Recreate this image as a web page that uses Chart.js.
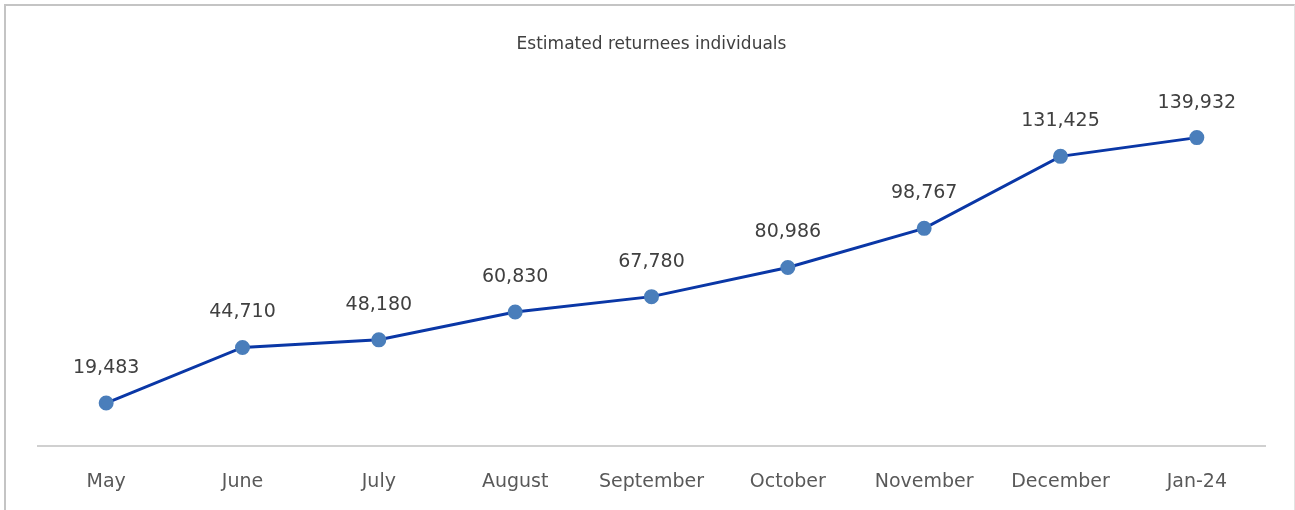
<!DOCTYPE html>
<html>
<head>
<meta charset="utf-8">
<script src="https://cdn.jsdelivr.net/npm/chart.js@4.4.1/dist/chart.umd.min.js"></script>
<style>
  html, body { margin: 0; padding: 0; background: #fff; }
  #wrap { position: relative; width: 1295px; height: 510px; overflow: hidden; }
  #frame { position: absolute; left: 4px; top: 4px; width: 1291px; height: 530px;
           border-top: 2px solid #c4c4c4; border-left: 2px solid #c4c4c4;
           border-right: 1px solid #e2e2e2; box-sizing: border-box; }
  canvas { position: absolute; left: 0; top: 0; }
</style>
</head>
<body>
<div id="wrap">
  <div id="frame"></div>
  <canvas id="chart" width="1295" height="510"></canvas>
</div>
<script>
// data
const months = ['May', 'June', 'July', 'August', 'September', 'October', 'November', 'December', 'Jan-24'];
const returnees = [19483, 44710, 48180, 60830, 67780, 80986, 98767, 131425, 139932];
const chartTitle = 'Estimated returnees individuals';

// draw the value above each point
const valueLabels = {
    id: 'valueLabels',
    afterDatasetsDraw(chart) {
        const ctx = chart.ctx;
        const meta = chart.getDatasetMeta(0);
        ctx.save();
        ctx.font = '19px "DejaVu Sans", sans-serif';
        ctx.fillStyle = '#404040';
        ctx.textAlign = 'center';
        ctx.textBaseline = 'middle';
        meta.data.forEach((pt, i) => {
            ctx.fillText(returnees[i].toLocaleString('en-US'), pt.x, pt.y - 35);
        });
        ctx.restore();
    }
};

new Chart(document.getElementById('chart'), {
    type: 'line',
    data: {
        labels: months,
        datasets: [{
            data: returnees,
            borderColor: '#0a37a6',
            borderWidth: 3,
            pointBackgroundColor: '#4a7ebb',
            pointBorderColor: '#4a7ebb',
            pointRadius: 6,
            tension: 0,
            fill: false
        }]
    },
    options: {
        responsive: false,
        animation: false,
        layout: { padding: { left: 38, right: 30, top: 0, bottom: 0 } },
        plugins: {
            legend: { display: false },
            tooltip: { enabled: false },
            title: {
                display: true,
                text: chartTitle,
                color: '#404040',
                font: { family: '"DejaVu Sans", sans-serif', size: 17, weight: 'normal' },
                padding: { top: 34, bottom: 39 }
            }
        },
        scales: {
            x: {
                offset: true,
                grid: { display: false },
                border: { color: '#d0d0d0', width: 2 },
                ticks: {
                    color: '#595959',
                    font: { family: '"DejaVu Sans", sans-serif', size: 19 },
                    padding: 17
                },
                afterFit(scale) { scale.height = 64; }
            },
            y: {
                display: false,
                min: 0,
                max: 160000
            }
        }
    },
    plugins: [valueLabels]
});
</script>
</body>
</html>
